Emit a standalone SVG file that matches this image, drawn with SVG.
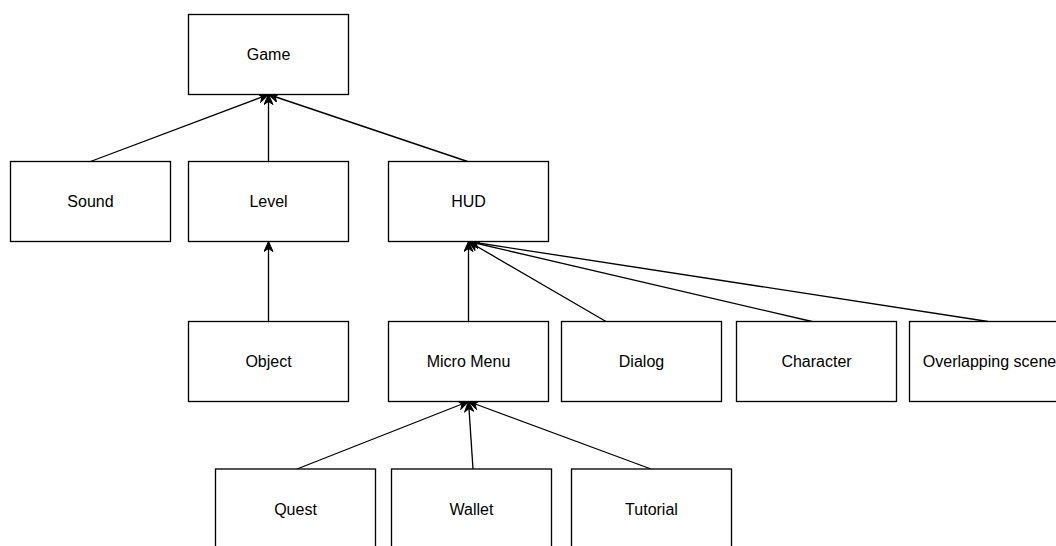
<svg xmlns="http://www.w3.org/2000/svg" width="1056" height="546" viewBox="0 0 1056 546">
<style>
.box{fill:#fff;stroke:#000;stroke-width:1.33}
.lbl{font-family:"Liberation Sans",Arial,sans-serif;font-size:16px;fill:#000;text-anchor:middle}
.edge{fill:none;stroke:#000;stroke-width:1.33;marker-end:url(#arr)}
</style>
<defs>
<marker id="arr" viewBox="-11 -5 12 10" refX="0" refY="0" markerWidth="12" markerHeight="10" markerUnits="userSpaceOnUse" orient="auto">
<path d="M0,0 L-10,-4.5 L-7,0 L-10,4.5 Z" fill="#000" stroke="#000" stroke-width="1"/>
</marker>
</defs>
<rect width="1056" height="546" fill="#fff"/>
<g id="connectors">
<path class="edge" d="M90.5,161.5 L268.5,94.5"/>
<path class="edge" d="M268.5,161.5 L268.5,94.5"/>
<path class="edge" d="M467.5,161.5 L268.5,94.5"/>
<path class="edge" d="M268.5,321.5 L268.5,241.5"/>
<path class="edge" d="M468.5,321.5 L468.5,241.5"/>
<path class="edge" d="M606,321.5 L468.5,241.5"/>
<path class="edge" d="M812,321.5 L468.5,241.5"/>
<path class="edge" d="M988,321.5 L468.5,241.5"/>
<path class="edge" d="M297,469 L468.5,401.5"/>
<path class="edge" d="M473,469 L468.5,401.5"/>
<path class="edge" d="M651,469 L468.5,401.5"/>
</g>
<g id="game"><rect class="box" x="188.5" y="14.5" width="160" height="80"/><text class="lbl" x="268.5" y="60">Game</text></g>
<g id="sound"><rect class="box" x="10.5" y="161.5" width="160" height="80"/><text class="lbl" x="90.5" y="207">Sound</text></g>
<g id="level"><rect class="box" x="188.5" y="161.5" width="160" height="80"/><text class="lbl" x="268.5" y="207">Level</text></g>
<g id="hud"><rect class="box" x="388.5" y="161.5" width="160" height="80"/><text class="lbl" x="468.5" y="207">HUD</text></g>
<g id="object"><rect class="box" x="188.5" y="321.5" width="160" height="80"/><text class="lbl" x="268.5" y="367">Object</text></g>
<g id="micromenu"><rect class="box" x="388.5" y="321.5" width="160" height="80"/><text class="lbl" x="468.5" y="367">Micro Menu</text></g>
<g id="dialog"><rect class="box" x="561.5" y="321.5" width="160" height="80"/><text class="lbl" x="641.5" y="367">Dialog</text></g>
<g id="character"><rect class="box" x="736.5" y="321.5" width="160" height="80"/><text class="lbl" x="816.5" y="367">Character</text></g>
<g id="overlapping"><rect class="box" x="909.5" y="321.5" width="160" height="80"/><text class="lbl" x="989.5" y="367">Overlapping scene</text></g>
<g id="quest"><rect class="box" x="215.5" y="469" width="160" height="80"/><text class="lbl" x="295.5" y="514.5">Quest</text></g>
<g id="wallet"><rect class="box" x="391.5" y="469" width="160" height="80"/><text class="lbl" x="471.5" y="514.5">Wallet</text></g>
<g id="tutorial"><rect class="box" x="571.5" y="469" width="160" height="80"/><text class="lbl" x="651.5" y="514.5">Tutorial</text></g>
</svg>
